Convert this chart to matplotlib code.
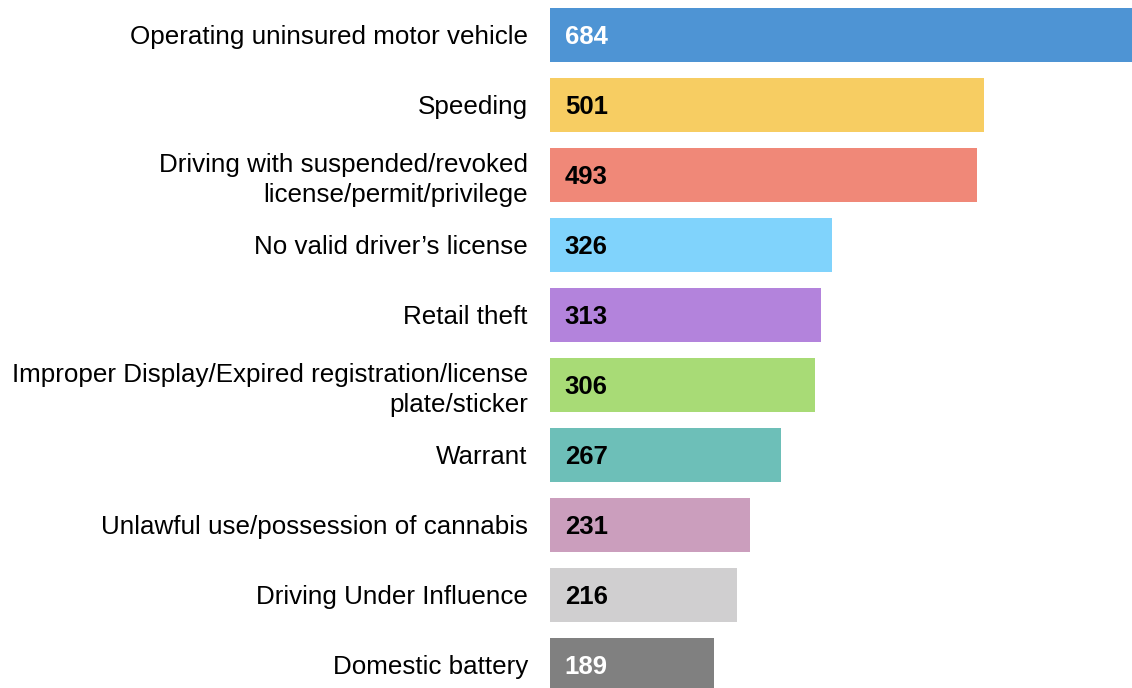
import matplotlib.pyplot as plt

plt.rcParams['font.family'] = ['Liberation Sans', 'DejaVu Sans']

offenses = [
    "Operating uninsured motor vehicle",
    "Speeding",
    "Driving with suspended/revoked\nlicense/permit/privilege",
    "No valid driver\u2019s license",
    "Retail theft",
    "Improper Display/Expired registration/license\nplate/sticker",
    "Warrant",
    "Unlawful use/possession of cannabis",
    "Driving Under Influence",
    "Domestic battery",
]
counts = [684, 501, 493, 326, 313, 306, 267, 231, 216, 189]
colors = ["#4E94D4", "#F7CD62", "#F08878", "#80D3FC", "#B383DC",
          "#A8DB76", "#6DBFB8", "#CB9EBD", "#D0CFD0", "#808080"]
label_colors = ["white", "black", "black", "black", "black",
                "black", "black", "black", "black", "white"]

fig = plt.figure(figsize=(11.32, 6.88), dpi=100)
ax = fig.add_axes([550 / 1132, 0, 582 / 1132, 1])

y = list(range(len(counts)))
ax.barh(y, counts, height=0.76, color=colors, edgecolor="none")

for i, (v, c) in enumerate(zip(counts, label_colors)):
    ax.text(17, i + 0.03, str(v), va="center", ha="left", fontsize=18.5,
            fontweight="bold", color=c)

ax.set_yticks(y)
ax.set_yticklabels(offenses, fontsize=18.7, linespacing=1.3)
ax.tick_params(axis="y", length=0, pad=16)
ax.set_xticks([])
ax.set_xlim(0, 672)
ax.set_ylim(9.33, -0.5)
for s in ax.spines.values():
    s.set_visible(False)

fig.savefig("out.png", dpi=100)
